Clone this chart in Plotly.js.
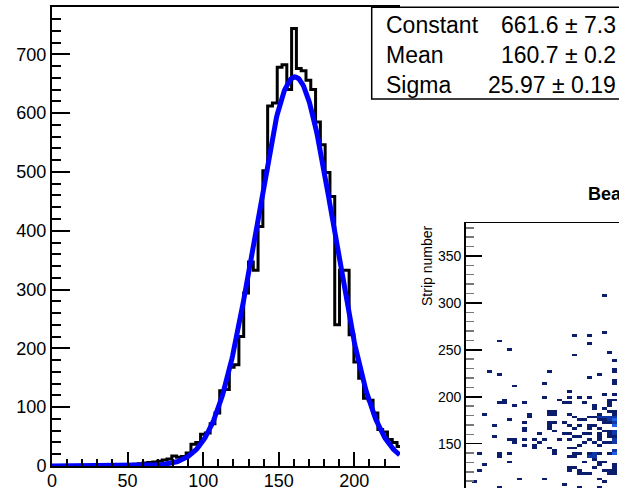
<!DOCTYPE html>
<html><head><meta charset="utf-8">
<script src="https://cdn.plot.ly/plotly-3.0.1.min.js"></script>
<style>html,body{margin:0;padding:0;background:#fff;overflow:hidden}#chart{width:619px;height:488px}</style>
</head><body><div id="chart"></div>
<script>
// ---------- data ----------
const binWidth = 3.17;
const counts = [0,0,0,0,0,0,0,0,0,0,0,0,0,0,1,1,2,3,4,5,6,7,8,10,12,17,15,16,22,37,
  40,54,56,72,90,128,130,168,172,220,294,347,333,407,502,612,617,678,682,640,
  744,676,672,656,640,585,546,499,458,240,333,333,223,177,149,115,112,90,62,58,
  45,40,33];
const fitConstant = [661.6], fitMean = [160.7], fitSigma = [25.97];
const statsLabels = ["Constant", "Mean", "Sigma"];
const statsValues = ["661.6 \u00b1 7.3", "160.7 \u00b1 0.2", "25.97 \u00b1 0.19"];
const mainXTicks = [0, 50, 100, 150, 200];
const mainYTicks = [0, 100, 200, 300, 400, 500, 600, 700];
const insetYTicks = [150, 200, 250, 300, 350];
const insetTitle = "Beam profile";
const insetYTitle = "Strip number";
const stripsPerRow = 3;
// inset 2D histogram cells: column index, strip-row index, content
const cellCol = [28,28,22,25,7,25,9,29,22,30,30,5,17,30,7,27,25,30,16,30,10,21,28,30,16,21,23,25,8,19,29,30,
  7,8,12,20,21,24,29,29,10,26,26,28,17,18,29,30,4,13,13,17,18,21,27,30,22,25,26,27,28,29,30,
  9,23,24,27,28,29,30,12,17,18,20,28,29,30,6,17,21,23,25,26,30,12,17,22,25,27,
  12,18,28,29,30,15,20,21,24,25,27,29,30,6,22,23,27,29,30,
  9,10,12,14,16,19,21,25,27,30,10,15,24,26,28,29,30,12,14,23,27,17,21,22,14,18,30,
  3,7,9,18,22,23,25,26,27,29,30,7,21,22,25,26,26,9,24,27,28,4,27,30,21,22,26,30,
  3,21,23,28,29,30,23,24,25,29,30,11,16,27,2,28,20,7,23,27];
const cellRow = [102,89,88,88,86,85,83,82,81,79,76,75,75,75,74,74,73,72,71,71,70,68,67,67,66,66,66,66,65,65,65,65,
  64,64,64,64,64,64,64,63,63,63,62,62,61,61,61,61,60,60,59,60,60,60,60,60,59,59,59,59,59,59,59,
  58,58,58,58,58,58,58,57,57,57,57,57,57,57,56,56,56,56,56,56,56,55,55,55,55,55,
  54,54,54,54,54,53,53,53,53,53,53,53,53,52,52,52,52,52,52,
  51,51,51,51,51,51,51,51,51,51,50,50,50,50,50,50,50,49,49,49,49,48,48,48,48,47,47,
  46,46,46,46,46,46,46,46,46,46,46,45,45,45,45,45,44,43,43,43,43,42,42,42,41,41,41,41,
  40,40,40,40,40,40,39,39,39,39,39,37,37,37,36,36,35,34,34,34];
const cellVal = [1,1,1,1,1,1,1,1,1,1,1,1,1,1,1,1,1,1,1,1,1,1,1,1,1,1,1,1,1,1,1,1,
  1,1,1,1,1,1,1,1,1,1,1,1,1,1,1,1,1,1,1,1,1,1,1,1,1,1,1,2,2,2,2,
  1,1,1,1,1,2,3,1,1,1,1,1,1,2,1,1,1,1,1,1,3,1,1,1,1,1,
  1,1,1,1,2,1,1,1,1,1,1,1,2,1,1,1,1,1,1,
  1,1,1,1,1,1,1,1,1,2,1,1,1,1,1,1,2,1,1,1,1,1,1,1,1,1,2,
  1,1,1,1,1,1,1,2,1,1,3,1,1,1,2,2,1,1,1,1,1,1,1,1,1,1,1,1,
  1,1,1,1,1,1,1,1,1,1,1,1,1,1,1,1,1,1,1,1];

// ---------- layout helpers (pixel -> paper) ----------
const W = 619, H = 488;
const px = v => v / W, py = v => 1 - v / H;
const FONT = "Liberation Sans, Arial, Helvetica, sans-serif";

// histogram outline (steps)
const edges = counts.map((_, i) => i * binWidth);
const histX = edges.concat([counts.length * binWidth]);
const histY = counts.concat([counts[counts.length - 1]]);

// fit function from the stats-box parameters
const fitX = [], fitY = [];
for (let i = 0; i <= 460; i++) {
  const x = i * 0.5;
  fitX.push(x);
  fitY.push(fitConstant[0] * Math.exp(-0.5 * Math.pow((x - fitMean[0]) / fitSigma[0], 2)));
}

// inset grid
const nCols = 32, rMin = 30, rMax = 128;
const hx = [], hy = [], hz = [];
for (let c = 0; c < nCols; c++) hx.push(c + 0.5);
for (let r = rMin; r < rMax; r++) { hy.push(r * stripsPerRow + stripsPerRow / 2); hz.push(new Array(nCols).fill(null)); }
cellCol.forEach((c, i) => { hz[cellRow[i] - rMin][c] = cellVal[i]; });

const traces = [
  {type: 'scatter', mode: 'lines', x: histX, y: histY, line: {shape: 'hv', color: '#000', width: 3},
   xaxis: 'x', yaxis: 'y', hoverinfo: 'skip'},
  {type: 'scatter', mode: 'lines', x: fitX, y: fitY, line: {color: '#0000ff', width: 5},
   xaxis: 'x', yaxis: 'y', hoverinfo: 'skip'},
  {type: 'heatmap', x: hx, y: hy, z: hz, xaxis: 'x2', yaxis: 'y2', zmin: 1, zmax: 3,
   colorscale: [[0, '#0b1d6b'], [0.5, '#1237a8'], [1, '#1f5fe6']], showscale: false, hoverinfo: 'skip'}
];

const annotations = [];
statsLabels.forEach((t, i) => {
  const yc = py(25 + 30 * i);
  annotations.push({xref: 'paper', yref: 'paper', x: px(384), y: yc, xanchor: 'left', yanchor: 'middle',
    text: t, showarrow: false, font: {family: FONT, size: 23, color: '#000'}});
  annotations.push({xref: 'paper', yref: 'paper', x: px(618), y: yc, xanchor: 'right', yanchor: 'middle',
    text: statsValues[i], showarrow: false, font: {family: FONT, size: 23, color: '#000'}});
});
annotations.push({xref: 'paper', yref: 'paper', x: px(585.7), y: py(194), xanchor: 'left', yanchor: 'middle',
  text: '<b>' + insetTitle + '</b>', showarrow: false, font: {family: FONT, size: 18, color: '#000'}});
annotations.push({xref: 'paper', yref: 'paper', x: px(427), y: py(266), xanchor: 'center', yanchor: 'middle',
  text: insetYTitle, textangle: -90, showarrow: false, font: {family: FONT, size: 14, color: '#000'}});

const layout = {
  width: W, height: H, margin: {l: 0, r: 0, t: 0, b: 0}, autosize: false, showlegend: false,
  paper_bgcolor: '#fff', plot_bgcolor: 'rgba(0,0,0,0)',
  xaxis: {domain: [px(52), px(400)], range: [0, 230.2], anchor: 'y', showline: true, linecolor: '#000', linewidth: 2,
    mirror: true, showgrid: false, zeroline: false, tickmode: 'array', tickvals: mainXTicks,
    ticks: 'inside', ticklen: 14, tickwidth: 2, tickcolor: '#000', ticklabelstandoff: -3,
    minor: {dtick: 10, tick0: 0, ticks: 'inside', ticklen: 7, tickwidth: 2, tickcolor: '#000', showgrid: false},
    tickfont: {family: FONT, size: 18, color: '#000'}},
  yaxis: {domain: [1 - 466 / H, 1 - 7 / H], range: [0, 780.4], anchor: 'x', showline: true, linecolor: '#000', linewidth: 2,
    showgrid: false, zeroline: false, tickmode: 'array', tickvals: mainYTicks,
    ticks: 'inside', ticklen: 18, tickwidth: 2, tickcolor: '#000',
    minor: {dtick: 20, tick0: 0, ticks: 'inside', ticklen: 9, tickwidth: 2, tickcolor: '#000', showgrid: false},
    tickfont: {family: FONT, size: 18, color: '#000'}},
  xaxis2: {domain: [px(465.7), 1], range: [0.74, 31.4], anchor: 'y2', side: 'top', showline: true, linecolor: '#000',
    linewidth: 1.5, showgrid: false, zeroline: false, ticks: '', showticklabels: false},
  yaxis2: {domain: [0, 1 - 223.3 / H], range: [102.8, 384.8], anchor: 'x2', showline: true, linecolor: '#000', linewidth: 1.5,
    showgrid: false, zeroline: false, tickmode: 'array', tickvals: insetYTicks,
    ticks: 'inside', ticklen: 16, tickwidth: 1.5, tickcolor: '#000',
    minor: {dtick: 10, tick0: 0, ticks: 'inside', ticklen: 8, tickwidth: 1.5, tickcolor: '#777', showgrid: false},
    tickfont: {family: FONT, size: 14, color: '#000'}},
  shapes: [
    {type: 'rect', xref: 'paper', yref: 'paper', x0: px(371.7), x1: 1.05, y0: py(99), y1: py(7.3),
     line: {color: '#000', width: 1.5}, fillcolor: '#fff', layer: 'above'}
  ],
  annotations: annotations
};

Plotly.newPlot('chart', traces, layout, {displayModeBar: false, staticPlot: true});
</script></body></html>
